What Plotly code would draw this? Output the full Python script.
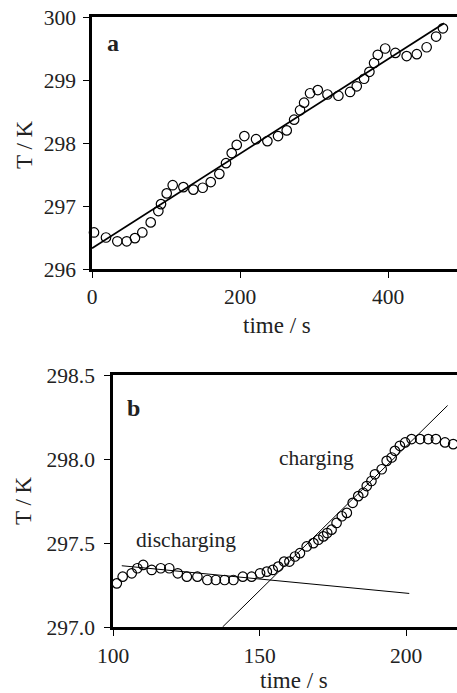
import plotly.graph_objects as go

# ---------- Panel a data ----------
t_a = [2.7, 18.9, 34.2, 46.9, 58, 68, 79.3, 89.6, 93.2, 100.9, 109, 123.4, 136.9, 149.5,
       160.4, 172, 181, 188.7, 195.5, 205.8, 221.6, 236.9, 251.3, 263, 273, 281, 286.5,
       294.5, 305, 318, 332.8, 348.6, 357.6, 367.5, 374.7, 381, 386, 396, 409.8, 425,
       438.7, 452, 464.8, 474]
T_a = [296.58, 296.50, 296.44, 296.44, 296.49, 296.58, 296.74, 296.92, 297.03, 297.20,
       297.33, 297.30, 297.26, 297.29, 297.38, 297.51, 297.68, 297.84, 297.97, 298.11,
       298.06, 298.03, 298.11, 298.20, 298.37, 298.52, 298.64, 298.79, 298.84, 298.77,
       298.75, 298.81, 298.90, 299.02, 299.13, 299.27, 299.40, 299.50, 299.43, 299.38,
       299.41, 299.52, 299.69, 299.82]
fit_a_t = [0, 475.6]
fit_a_T = [296.33, 299.90]

# ---------- Panel b data ----------
t_b = [101.3, 103.3, 106.4, 108.3, 110.3, 113.2, 116.3, 119.2, 122.1, 125.2, 128.8, 132.2,
       135.1, 138.1, 141.1, 144.3, 147.3, 150.2, 152.5, 154.5, 156.4, 158.4, 160.2, 162.1,
       163.8, 166.1, 168.4, 170.1, 171.8, 173.1, 174.6, 176.3, 178.1, 179.8, 181.8, 183.7,
       185.4, 186.6, 188.2, 189.4, 191.7, 193.4, 195.1, 196.2, 197.9, 199.7, 201.9, 204.8,
       207.6, 210.2, 213.3, 216.1]
T_b = [297.26, 297.30, 297.32, 297.35, 297.37, 297.34, 297.35, 297.35, 297.32, 297.30,
       297.30, 297.28, 297.28, 297.28, 297.28, 297.30, 297.30, 297.32, 297.33, 297.34,
       297.36, 297.39, 297.39, 297.42, 297.44, 297.48, 297.50, 297.52, 297.54, 297.56,
       297.58, 297.62, 297.66, 297.68, 297.74, 297.78, 297.80, 297.84, 297.87, 297.91,
       297.94, 297.99, 298.01, 298.05, 298.08, 298.10, 298.12, 298.12, 298.12, 298.12,
       298.10, 298.09]
dis_t = [103.0, 201.1]
dis_T = [297.365, 297.20]
chg_t = [137.4, 214.2]
chg_T = [297.0, 298.32]

xticks_a = [0, 200, 400]
yticks_a = [296, 297, 298, 299, 300]
xticks_b = [100, 150, 200]
yticks_b = [297.0, 297.5, 298.0, 298.5]
ytext_b = ["297.0", "297.5", "298.0", "298.5"]

W, H = 457, 693
FONT = "Liberation Serif, Times New Roman, Times, serif"
TXT = "#222"
FS = 21.5
FT = 23

fig = go.Figure()
marker = dict(symbol="circle-open", size=9.5, color="black", line=dict(width=1.2, color="black"))

fig.add_trace(go.Scatter(x=fit_a_t, y=fit_a_T, mode="lines", line=dict(color="black", width=1.8),
                         xaxis="x", yaxis="y", showlegend=False))
fig.add_trace(go.Scatter(x=t_a, y=T_a, mode="markers", marker=marker,
                         xaxis="x", yaxis="y", showlegend=False, cliponaxis=False))
fig.add_trace(go.Scatter(x=dis_t, y=dis_T, mode="lines", line=dict(color="black", width=1),
                         xaxis="x2", yaxis="y2", showlegend=False))
fig.add_trace(go.Scatter(x=chg_t, y=chg_T, mode="lines", line=dict(color="black", width=1),
                         xaxis="x2", yaxis="y2", showlegend=False))
fig.add_trace(go.Scatter(x=t_b, y=T_b, mode="markers", marker=marker,
                         xaxis="x2", yaxis="y2", showlegend=False, cliponaxis=False))

def px_x(p):
    return p / W

def px_y(p):
    return 1 - p / H

axis_common = dict(showgrid=False, zeroline=False, showline=True, linecolor="black", linewidth=2.5,
                   ticks="outside", ticklen=6, tickwidth=1.3, tickcolor="black", automargin=False,
                   tickfont=dict(family=FONT, size=FS, color=TXT))

fig.update_layout(
    template="none",
    width=W, height=H, margin=dict(l=0, r=0, t=0, b=0, pad=0),
    paper_bgcolor="white", plot_bgcolor="white",
    font=dict(family=FONT, size=FS, color=TXT),
    xaxis=dict(domain=[px_x(92), 1], range=[0, 493], tickvals=xticks_a, mirror=True,
               anchor="y", ticklabelstandoff=0, **axis_common),
    yaxis=dict(domain=[px_y(269), px_y(17)], range=[296, 300], tickvals=yticks_a,
               anchor="x", ticklabelstandoff=3, **axis_common),
    xaxis2=dict(domain=[px_x(113), 1], range=[100, 217.4], tickvals=xticks_b, mirror=True,
                anchor="y2", ticklabelstandoff=1, **axis_common),
    yaxis2=dict(domain=[px_y(627), px_y(375.3)], range=[297, 298.5], tickvals=yticks_b,
                ticktext=ytext_b, anchor="x2", ticklabelstandoff=5, **axis_common),
)

def note(text, x, y, xref="paper", yref="paper", size=FS, angle=0):
    if xref == "paper":
        x = px_x(x)
    if yref == "paper":
        y = px_y(y)
    return dict(text=text, x=x, y=y, xref=xref, yref=yref, showarrow=False, textangle=angle,
                xanchor="center", yanchor="middle",
                font=dict(size=size, family=FONT, color=TXT))

ann = [
    note("<b>a</b>", 113, 43, size=24),
    note("<b>b</b>", 133, 408, size=24),
    note("charging", 169.6, 298.01, xref="x2", yref="y2"),
    note("discharging", 124.9, 297.52, xref="x2", yref="y2"),
    note("T / K", 24, 145, size=FT, angle=-90),
    note("T / K", 24, 501, size=FT, angle=-90),
    note("time / s", 277, 325, size=FT),
    note("time / s", 294, 680, size=FT),
]
fig.update_layout(annotations=ann)

fig.write_html("out.html", config={"displayModeBar": False},
               post_script="document.body.style.margin='0';document.body.style.overflow='hidden';")
